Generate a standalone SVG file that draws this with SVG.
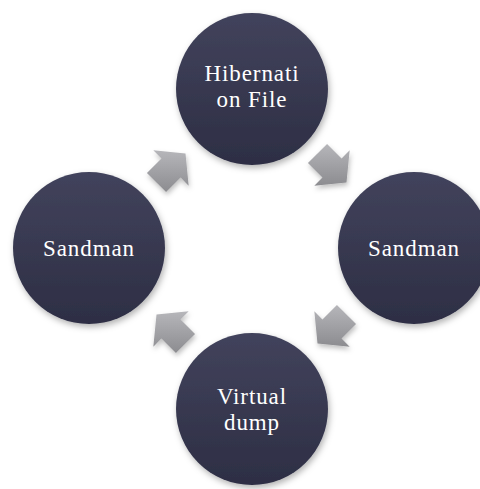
<svg xmlns="http://www.w3.org/2000/svg" width="480" height="489" viewBox="0 0 480 489">
<style>
.node circle{fill:url(#cg);filter:url(#sh)}
.node text{font-family:"Liberation Serif","Times New Roman",serif;font-size:23px;letter-spacing:0.9px;fill:#ffffff;text-anchor:middle}
.arr polygon{fill:url(#ag);filter:url(#sh2)}
</style>
<defs>
<linearGradient id="cg" x1="0" y1="0" x2="0" y2="1">
<stop offset="0" stop-color="#42435c"/>
<stop offset="1" stop-color="#2d2e44"/>
</linearGradient>
<linearGradient id="ag" x1="0" y1="0" x2="0" y2="1">
<stop offset="0" stop-color="#b6b6ba"/>
<stop offset="1" stop-color="#8c8c90"/>
</linearGradient>
<filter id="sh" x="-20%" y="-20%" width="140%" height="140%">
<feDropShadow dx="1.5" dy="3" stdDeviation="3" flood-color="#000" flood-opacity="0.3"/>
</filter>
<filter id="sh2" x="-30%" y="-30%" width="160%" height="160%">
<feDropShadow dx="1" dy="3" stdDeviation="2.5" flood-color="#000" flood-opacity="0.25"/>
</filter>
</defs>
<rect width="480" height="489" fill="#ffffff"/>
<g id="connectors" class="arr">
<polygon points="327.05,143.96 341.55,158.45 349.68,150.32 346.5,182.5 314.32,185.68 322.45,177.55 307.96,163.05"/>
<polygon points="356.04,324.05 341.55,338.55 349.68,346.68 317.5,343.5 314.32,311.32 322.45,319.45 336.95,304.96"/>
<polygon points="175.95,353.04 161.45,338.55 153.32,346.68 156.5,314.5 188.68,311.32 180.55,319.45 195.04,333.95"/>
<polygon points="146.96,172.95 161.45,158.45 153.32,150.32 185.5,153.5 188.68,185.68 180.55,177.55 166.05,192.04"/>
</g>
<g id="node-hibernation" class="node">
<circle cx="252" cy="89" r="76"/>
<text x="252" y="81">Hibernati</text>
<text x="252" y="107">on File</text>
</g>
<g id="node-sandman-right" class="node">
<circle cx="414" cy="248" r="76"/>
<text x="414" y="256">Sandman</text>
</g>
<g id="node-virtual-dump" class="node">
<circle cx="252" cy="409" r="76"/>
<text x="252" y="404">Virtual</text>
<text x="252" y="430">dump</text>
</g>
<g id="node-sandman-left" class="node">
<circle cx="89" cy="248" r="76"/>
<text x="89" y="256">Sandman</text>
</g>
</svg>
